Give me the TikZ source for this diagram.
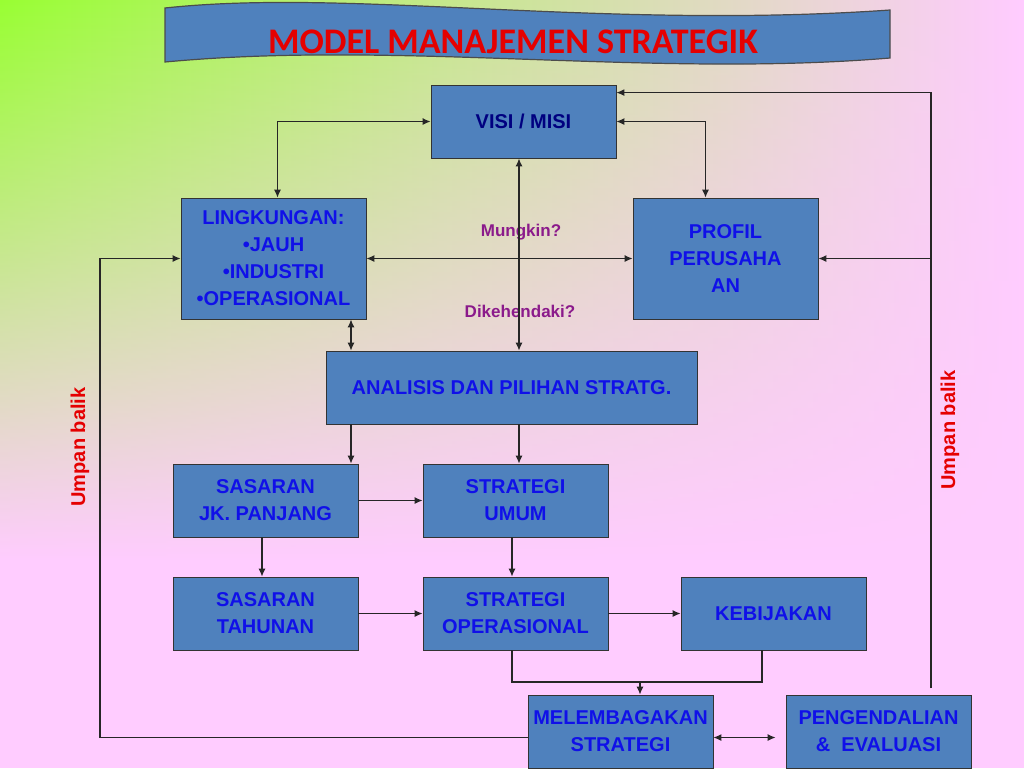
\documentclass[tikz,border=0pt]{standalone}
\usepackage{fontspec}
\setmainfont{Liberation Sans}
\newfontfamily\titlefont{Carlito}
\usetikzlibrary{fadings,arrows.meta}
\definecolor{boxblue}{HTML}{4F81BD}
\definecolor{txtblue}{HTML}{1010E8}
\definecolor{bggreen}{HTML}{99FF33}
\definecolor{bgpink}{HTML}{FFCCFF}
\definecolor{lblpurple}{HTML}{8B1A8B}
\tikzfading[name=fadedown, top color=transparent!0, bottom color=transparent!100]
\tikzset{
  stepbox/.style={draw=black!80, fill=boxblue, minimum width=92.5pt, minimum height=36.5pt,
    inner sep=0pt, align=center, font=\bfseries\fontsize{10}{13.5}\selectfont, text=txtblue},
  link/.style={-{Latex[length=4pt,width=3.5pt]}, line width=0.6pt, black!85},
  dlink/.style={{Latex[length=4pt,width=3.5pt]}-{Latex[length=4pt,width=3.5pt]}, line width=0.6pt, black!85},
  plain/.style={line width=0.6pt, black!85},
}
\begin{document}
\begin{tikzpicture}[x=0.5pt,y=-0.5pt]
  % background
  \fill[bgpink] (0,0) rectangle (1024,768);
  \shade[left color=bggreen, right color=bgpink, path fading=fadedown] (0,0) rectangle (1024,560);
  \useasboundingbox (0,0) rectangle (1024,768);
  % banner
  \draw[fill=boxblue, draw=black!70, line width=0.6pt] (165,8) .. controls (350,-12) and (600,30) .. (890,10)
    -- (890,58) .. controls (650,78) and (400,40) .. (165,62) -- cycle;
  \node[font=\titlefont\bfseries\fontsize{18}{20}\selectfont, text=red!90!black] (title) at (513,42) {MODEL MANAJEMEN STRATEGIK};

  % boxes
  \node[stepbox, text=blue!50!black] (visi) at (523.5,121.5) {VISI / MISI};
  \node[stepbox, minimum height=60.5pt] (ling) at (273.5,258.5) {LINGKUNGAN:\\\textbullet JAUH\\\textbullet INDUSTRI\\\textbullet OPERASIONAL};
  \node[stepbox, minimum height=60.5pt] (profil) at (725.5,258.5) {PROFIL\\PERUSAHA\\AN};
  \node[stepbox, minimum width=185.5pt] (analisis) at (511.5,387.5) {ANALISIS DAN PILIHAN STRATG.};
  \node[stepbox] (sasjk) at (265.5,500.5) {SASARAN\\JK. PANJANG};
  \node[stepbox] (strum) at (515.5,500.5) {STRATEGI\\UMUM};
  \node[stepbox] (sastah) at (265.5,613.5) {SASARAN\\TAHUNAN};
  \node[stepbox] (strops) at (515.5,613.5) {STRATEGI\\OPERASIONAL};
  \node[stepbox] (kebij) at (773.5,613.5) {KEBIJAKAN};
  \node[stepbox] (melemb) at (620.5,731.5) {MELEMBAGAKAN\\STRATEGI};
  \node[stepbox] (pengend) at (878.5,731.5) {PENGENDALIAN\\\&\ \ EVALUASI};

  % labels
  \node[font=\bfseries\fontsize{8.5}{10}\selectfont, text=lblpurple] (mungkin) at (521,232) {Mungkin?};
  \node[font=\bfseries\fontsize{8.5}{10}\selectfont, text=lblpurple] (dikehendaki) at (520,311) {Dikehendaki?};
  \node[font=\bfseries\fontsize{10}{12}\selectfont, text=red!90!black, rotate=90] (umpanL) at (80,447) {Umpan balik};
  \node[font=\bfseries\fontsize{10}{12}\selectfont, text=red!90!black, rotate=90] (umpanR) at (950,430) {Umpan balik};

  % helper coordinates
  \coordinate (colA) at (351,0);
  \coordinate (colB) at (519,0);
  \coordinate (fbR) at (931,688);
  \coordinate (fbL) at (100,0);
  \coordinate (join) at (640,682);

  % connectors
  \draw[dlink] (visi.west) -| ([xshift=2pt]ling.north);
  \draw[dlink] (visi.east) -| ([xshift=-10pt]profil.north);
  \draw[dlink] (ling.east) -- (profil.west);
  \draw[dlink] (visi.south -| colB) -- (analisis.north -| colB);
  \draw[dlink] (ling.south -| colA) -- (analisis.north -| colA);
  \draw[link] (fbR) |- ([yshift=-4pt]visi.north east);
  \draw[link] (fbR |- profil.east) -- (profil.east);
  \draw[link] (analisis.south -| colA) -- (sasjk.north -| colA);
  \draw[link] (analisis.south -| colB) -- (strum.north -| colB);
  \draw[link] (sasjk.east) -- (strum.west);
  \draw[link] ([xshift=-1.75pt]sasjk.south) -- ([xshift=-1.75pt]sastah.north);
  \draw[link] ([xshift=-1.75pt]strum.south) -- ([xshift=-1.75pt]strops.north);
  \draw[link] (sastah.east) -- (strops.west);
  \draw[link] (strops.east) -- (kebij.west);
  \draw[plain] ([xshift=-1.75pt]strops.south) |- (join) -| ([xshift=-5.75pt]kebij.south);
  \draw[link] (join) -- (join |- melemb.north);
  \draw[link] ([yshift=-3pt]melemb.west) -| (fbL |- ling.west) -- (ling.west);
  \draw[dlink, shorten >=5pt] ([yshift=-3pt]melemb.east) -- ([yshift=-3pt]pengend.west);
\end{tikzpicture}
\end{document}
